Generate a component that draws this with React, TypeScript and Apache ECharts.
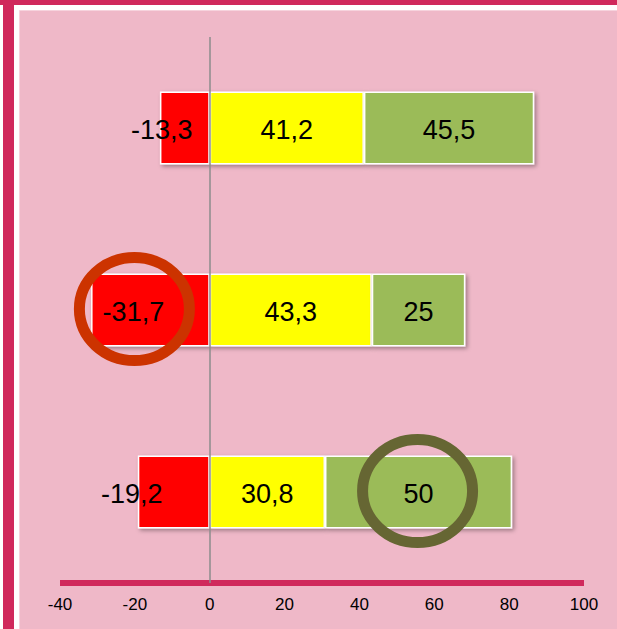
import React, { useEffect, useRef } from "react";
import * as echarts from "echarts";

// Three survey rows, top to bottom
const rowNames = ["Zeile 1", "Zeile 2", "Zeile 3"];
const negativeShare = [-13.3, -31.7, -19.2];
const neutralShare = [41.2, 43.3, 30.8];
const positiveShare = [45.5, 25, 50];
const xTicks = { min: -40, max: 100, step: 20 };

// Horizontal nudge for the red labels (pixels)
const negativeLabelShift = [-23, -17, -42];

const FONT = "'Liberation Sans', Arial, Helvetica, sans-serif";
const CRIMSON = "#D0295C";
const PINK = "#EFB8C8";

const fmt = (v: number) => String(v).replace(".", ",");

export default function App() {
  const ref = useRef<HTMLDivElement>(null);

  useEffect(() => {
    if (!ref.current) return;
    const chart = echarts.init(ref.current, undefined, { renderer: "svg" });

    const barStyle = (color: string) => ({
      color,
      borderColor: "#FFFFFF",
      borderWidth: 1.5,
      shadowColor: "rgba(0,0,0,0.35)",
      shadowBlur: 4,
      shadowOffsetX: 2,
      shadowOffsetY: 2,
    });

    const label = {
      show: true,
      position: "inside" as const,
      color: "#000",
      fontFamily: FONT,
      fontSize: 27,
      formatter: (p: any) => fmt(p.value),
    };

    chart.setOption({
      animation: false,
      backgroundColor: "#FFFFFF",
      grid: { left: 60, right: 33, top: 37, bottom: 46 },
      xAxis: {
        type: "value",
        min: xTicks.min,
        max: xTicks.max,
        interval: xTicks.step,
        splitLine: { show: false },
        axisTick: { show: false },
        axisLine: { show: true, lineStyle: { color: CRIMSON, width: 6, cap: "butt" } },
        axisLabel: {
          color: "#000",
          fontFamily: FONT,
          fontSize: 17,
          margin: 13,
        },
      },
      yAxis: {
        type: "category",
        inverse: true,
        data: rowNames,
        axisTick: { show: false },
        axisLabel: { show: false },
        axisLine: { show: true, onZero: true, lineStyle: { color: "#8C8C8C", width: 1.5, cap: "butt" } },
        z: 5,
      },
      series: [
        {
          type: "bar",
          stack: "share",
          barWidth: "40%",
          itemStyle: barStyle("#FF0000"),
          label,
          data: negativeShare.map((v, i) => ({
            value: v,
            label: { offset: [negativeLabelShift[i], 2] },
          })),
        },
        {
          type: "bar",
          stack: "share",
          barWidth: "40%",
          itemStyle: barStyle("#FFFF00"),
          label: { ...label, offset: [0, 2] },
          data: neutralShare,
        },
        {
          type: "bar",
          stack: "share",
          barWidth: "40%",
          itemStyle: barStyle("#9BBB59"),
          label: { ...label, offset: [0, 2] },
          data: positiveShare,
        },
      ],
    });

    // Rings highlighting the -31,7 label and the 50 label
    const redAt = chart.convertToPixel({ xAxisIndex: 0, yAxisIndex: 0 }, [
      negativeShare[1] / 2,
      1,
    ]) as number[];
    const oliveAt = chart.convertToPixel({ xAxisIndex: 0, yAxisIndex: 0 }, [
      neutralShare[2] + positiveShare[2] / 2,
      2,
    ]) as number[];

    chart.setOption({
      graphic: [
        { type: "rect", z: -10, silent: true, shape: { x: 0, y: 0, width: 617, height: 5 }, style: { fill: CRIMSON } },
        { type: "rect", z: -10, silent: true, shape: { x: 3, y: 0, width: 11, height: 629 }, style: { fill: CRIMSON } },
        {
          type: "rect",
          z: -10,
          silent: true,
          shape: { x: 19.5, y: 10.5, width: 598, height: 619 },
          style: { fill: PINK, stroke: "#F6D3DD", lineWidth: 1 },
        },
        {
          type: "ellipse",
          z: 100,
          silent: true,
          shape: { cx: redAt[0] + negativeLabelShift[1] + 1, cy: redAt[1] - 1, rx: 55, ry: 51.5 },
          style: { fill: "none", stroke: "#CC3300", lineWidth: 11 },
        },
        {
          type: "ellipse",
          z: 100,
          silent: true,
          shape: { cx: oliveAt[0] - 1, cy: oliveAt[1] - 1, rx: 55, ry: 51.5 },
          style: { fill: "none", stroke: "#666633", lineWidth: 11 },
        },
      ],
    });

    return () => chart.dispose();
  }, []);

  return (
    <div
      ref={ref}
      style={{ position: "fixed", left: 0, top: 0, width: 617, height: 629 }}
    />
  );
}
